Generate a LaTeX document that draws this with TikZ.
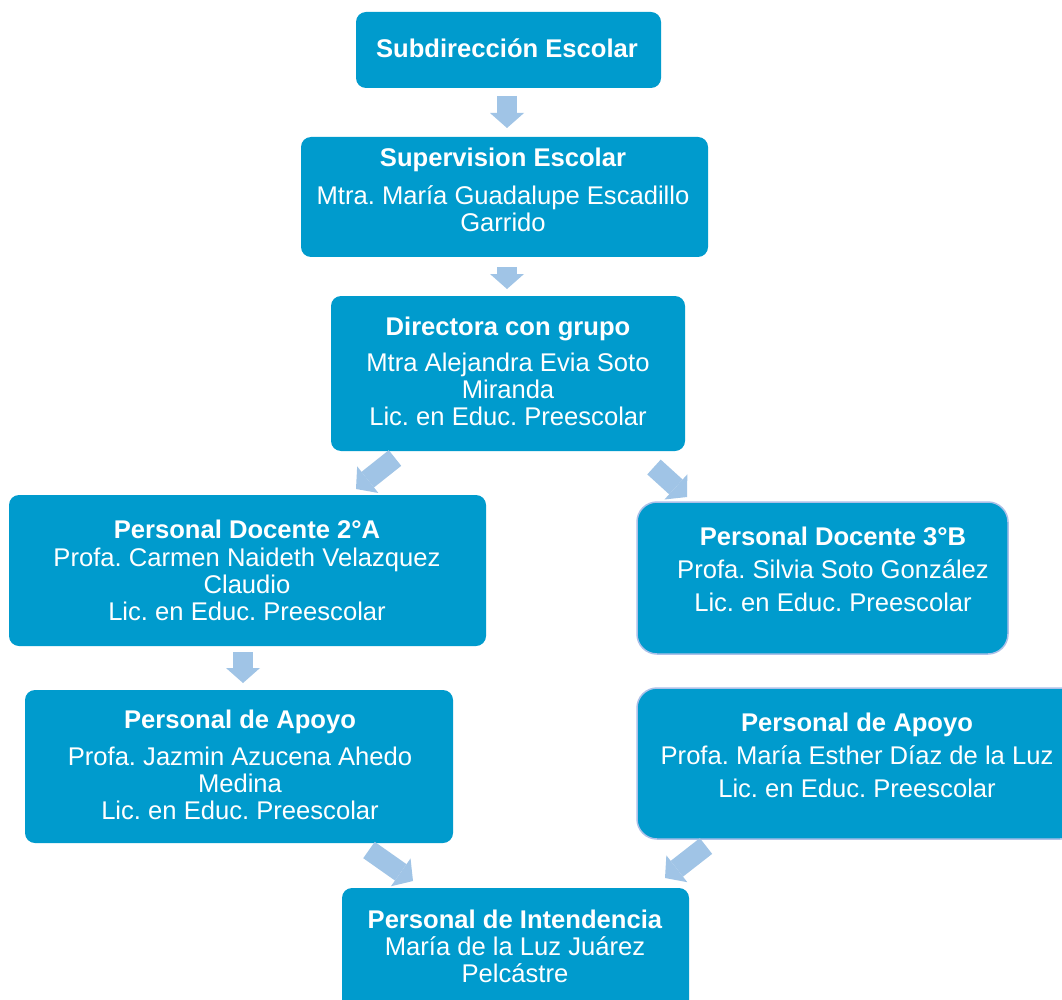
\documentclass[tikz,border=0pt]{standalone}
\usepackage{fontspec}
\setmainfont{Liberation Sans}
\usetikzlibrary{arrows.meta,calc}
\definecolor{boxblue}{RGB}{0,155,205}
\definecolor{arrowblue}{RGB}{160,196,230}
\definecolor{edgeblue}{RGB}{172,192,232}
\frenchspacing
\begin{document}
\begin{tikzpicture}[x=1pt,y=-1pt,
 box/.style={fill=boxblue, rounded corners=10pt, inner sep=0pt, outer sep=0pt},
 boxedge/.style={box, draw=edgeblue, line width=1.5pt, rounded corners=20pt},
 txt/.style={text=white, align=center, inner sep=0pt, anchor=north, font=\fontsize{25.6}{27}\selectfont\frenchspacing},
 wide/.style={font=\fontsize{25.6}{33}\selectfont\frenchspacing},
 conn/.style={draw=arrowblue, line width=20pt, -{Triangle[length=15pt,width=34pt,line width=0pt]}}
]
\useasboundingbox (0,0) rectangle (1062,1000);
\fill[white] (0,0) rectangle (1062,1000);

% boxes
\node[box, minimum width=305pt, minimum height=76pt] (b1) at (508.5,50) {};
\node[box, minimum width=407pt, minimum height=120pt] (b2) at (504.5,197) {};
\node[box, minimum width=354pt, minimum height=155pt] (b3) at (508,373.5) {};
\node[box, minimum width=477pt, minimum height=151pt] (b4) at (247.5,570.5) {};
\node[boxedge, minimum width=371pt, minimum height=152pt] (b5) at (822.5,578) {};
\node[box, minimum width=428pt, minimum height=153pt] (b6) at (239,766.5) {};
\node[boxedge, minimum width=443pt, minimum height=151pt] (b7) at (858.5,763.5) {};
\node[box, minimum width=347pt, minimum height=127pt] (b8) at (515.5,951.5) {};

% texts
\node[txt, anchor=base] (t1) at (507,57.5) {\textbf{Subdirección Escolar}};
\node[txt] (t2) at (503,148) {\textbf{Supervision Escolar}\\[11pt]Mtra. María Guadalupe Escadillo\\Garrido};
\node[txt] (t3) at (508,317) {\textbf{Directora con grupo}\\[9pt]Mtra Alejandra Evia Soto\\Miranda\\Lic. en Educ. Preescolar};
\node[txt] (t4) at (247,520) {\textbf{Personal Docente 2°A}\\[1pt]Profa. Carmen Naideth Velazquez\\Claudio\\Lic. en Educ. Preescolar};
\node[txt, wide] (t5) at (833,527) {\textbf{Personal Docente 3°B}\\Profa. Silvia Soto González\\Lic. en Educ. Preescolar};
\node[txt] (t6) at (240,710) {\textbf{Personal de Apoyo}\\[10pt]Profa. Jazmin Azucena Ahedo\\Medina\\Lic. en Educ. Preescolar};
\node[txt, wide] (t7) at (857,713) {\textbf{Personal de Apoyo}\\Profa. María Esther Díaz de la Luz\\Lic. en Educ. Preescolar};
\node[txt] (t8) at (515,910) {\textbf{Personal de Intendencia}\\María de la Luz Juárez\\Pelcástre};

% connectors
\draw[conn] ($(b1.south)+(-1.5,8)$) -- ($(b2.north)+(2.5,-9)$);
\draw[conn] ($(b2.south)+(2.5,10)$) -- ($(b3.north)+(-1,-7)$);
\draw[conn] ($(b3.south west)+(64,7)$) -- ($(b4.north east)+(-130,-6)$);
\draw[conn] ($(b3.south east)+(-31,16)$) -- ($(b5.north west)+(50,-5)$);
\draw[conn] ($(b4.south)+(-4.5,6)$) -- ($(b6.north)+(4,-7)$);
\draw[conn] ($(b6.south east)+(-84,7)$) -- ($(b8.north west)+(71,-7)$);
\draw[conn] ($(b7.south west)+(69,7)$) -- ($(b8.north east)+(-24,-10)$);
\end{tikzpicture}
\end{document}
